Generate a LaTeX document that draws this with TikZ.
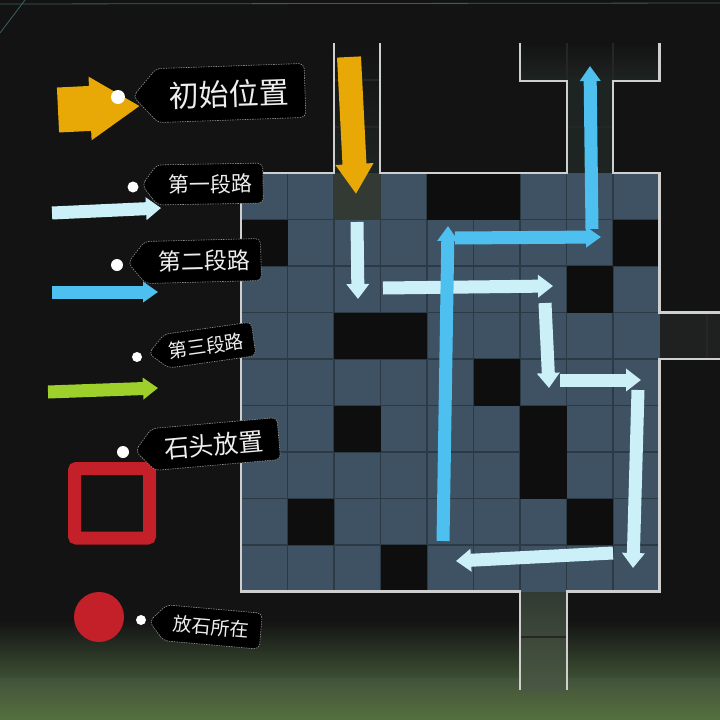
\documentclass[tikz,border=0pt]{standalone}
\usepackage{fontspec}
\newfontfamily\cjk{Noto Sans CJK SC}
\usetikzlibrary{arrows.meta}
\definecolor{bgc}{HTML}{131313}
\definecolor{slate}{HTML}{3E5263}
\definecolor{gridline}{HTML}{2C3A45}
\definecolor{cellblack}{HTML}{0E0E0E}
\definecolor{startcell}{HTML}{323A33}
\definecolor{wall}{HTML}{CFCFCF}
\definecolor{corr}{HTML}{1E2422}
\definecolor{orangeA}{HTML}{E8A806}
\definecolor{cyanA}{HTML}{CBF0F7}
\definecolor{blueA}{HTML}{4EC0F0}
\definecolor{greenA}{HTML}{9DD02A}
\definecolor{redA}{HTML}{C3202A}
\definecolor{tagtext}{HTML}{EEEEEE}
\definecolor{greenbot}{HTML}{55703F}
\definecolor{greenmid}{HTML}{3C4E33}
\newcommand\cellat[3]{\fill[#3] ({241+46.5*#1},{173+46.5*#2}) rectangle ++(46.5,46.5);}
\newcommand\tagshape[6]{%
  \filldraw[tagbg, shift={(#1,#2)}, rotate=#6] ({-#3-#5},0) -- (-#3,-#4) -- (#3,-#4) -- (#3,#4) -- (-#3,#4) -- cycle;}
\tikzset{
  wallline/.style={draw=wall, line width=2.2pt},
  gridl/.style={draw=gridline, line width=1.3pt},
  arrC/.style={draw=cyanA, line width=13pt, -{Triangle[width=22pt,length=15pt]}},
  arrB/.style={draw=blueA, line width=13pt, -{Triangle[width=20pt,length=15pt]}},
  arrG/.style={draw=greenA, line width=13pt, -{Triangle[width=21pt,length=15pt]}},
  arrO/.style={draw=orangeA, line width=24pt, -{Triangle[width=36pt,length=30pt]}},
  arrOL/.style={draw=orangeA, line width=45pt, -{Triangle[width=60pt,length=50pt]}},
  tagbg/.style={fill=black, draw=gray!85, dash pattern=on 1.5pt off 1pt, line width=0.6pt, rounded corners=5pt},
  tagtxt/.style={text=tagtext, inner sep=0pt},
  dotw/.style={circle, fill=white, draw=none, inner sep=0pt},
}
\begin{document}
\begin{tikzpicture}[x=1pt,y=-1pt]
\useasboundingbox (0,0) rectangle (720,720);
% background
\fill[bgc] (0,0) rectangle (720,720);
\shade[top color=bgc, bottom color=greenmid] (0,620) rectangle (720,678);
\shade[top color=greenmid!90!gray, bottom color=greenbot] (0,678) rectangle (720,720);
\draw[draw=teal!40!gray, line width=0.8pt, opacity=0.7] (0,4) -- (720,3);
\draw[draw=teal!40!gray, line width=0.8pt, opacity=0.7] (0,33) -- (25,0);
% corridors
\shade[top color=bgc, bottom color=corr] (334,43) rectangle (380,173);
\shade[top color=bgc, bottom color=corr] (520,43) rectangle (660,81);
\fill[corr] (567,81) rectangle (613,173);
\fill[corr!80!gray!60!black] (660,312.5) rectangle (720,359);
\shade[top color=startcell, bottom color=greenmid!80!gray] (520,591.5) rectangle (567,690);
\draw[gridl, draw=gray!30!black] (334,80) -- (380,80) (334,127) -- (380,127);
\draw[gridl, draw=gray!30!black] (567,43) -- (567,81) (613,43) -- (613,81) (567,127) -- (613,127);
\draw[gridl, draw=gray!30!black] (707,312.5) -- (707,359) (520,637) -- (567,637);
% grid
\fill[slate] (241,173) rectangle (659.5,591.5);
\foreach \i in {1,...,8} {
  \draw[gridl] ({241+46.5*\i},173) -- ({241+46.5*\i},591.5);
  \draw[gridl] (241,{173+46.5*\i}) -- (659.5,{173+46.5*\i});
}
\foreach \c/\r in {4/0,5/0,0/1,8/1,7/2,2/3,3/3,5/4,2/5,6/5,6/6,1/7,7/7,3/8} {\cellat{\c}{\r}{cellblack}}
\cellat{2}{0}{startcell}
% walls
\draw[wallline] (334,43) -- (334,173) -- (241,173) -- (241,591.5) -- (520,591.5) -- (520,690);
\draw[wallline] (567,690) -- (567,591.5) -- (659.5,591.5) -- (659.5,359) -- (720,359);
\draw[wallline] (720,312.5) -- (659.5,312.5) -- (659.5,173) -- (613,173) -- (613,81) -- (659.5,81) -- (659.5,43);
\draw[wallline] (520,43) -- (520,81) -- (567,81) -- (567,173) -- (380,173) -- (380,43);
% map arrows
\coordinate (o1) at (349,57); \coordinate (o2) at (356,194);
\draw[arrO] (o1) -- (o2);
\coordinate (c1a) at (357,222); \coordinate (c1b) at (358,299);
\coordinate (c2a) at (383,288); \coordinate (c2b) at (553,286);
\coordinate (c3a) at (545,303); \coordinate (c3b) at (549,388);
\coordinate (c4a) at (560,380); \coordinate (c4b) at (641,380);
\coordinate (c5a) at (638,390); \coordinate (c5b) at (633,568);
\coordinate (c6a) at (613,553); \coordinate (c6b) at (456,561);
\foreach \s in {1,...,6} {\draw[arrC] (c\s a) -- (c\s b);}
\coordinate (b1a) at (443,541); \coordinate (b1b) at (448,226);
\coordinate (b2a) at (455,238); \coordinate (b2b) at (601,237);
\coordinate (b3a) at (592,229); \coordinate (b3b) at (590,66);
\foreach \s in {1,2,3} {\draw[arrB] (b\s a) -- (b\s b);}
% legend
\coordinate (lo1) at (58,110); \coordinate (lo2) at (140,106);
\draw[arrOL] (lo1) -- (lo2);
\coordinate (lc1) at (52,213); \coordinate (lc2) at (161,208);
\draw[arrC] (lc1) -- (lc2);
\coordinate (lb1) at (52,292); \coordinate (lb2) at (158,292);
\draw[arrB] (lb1) -- (lb2);
\coordinate (lg1) at (48,392); \coordinate (lg2) at (158,388);
\draw[arrG] (lg1) -- (lg2);
\draw[draw=redA, line width=13pt, rounded corners=2pt] (74.5,468.5) rectangle (149.5,538);
\node[circle, fill=redA, minimum size=50pt, inner sep=0pt] (stone) at (99,617) {};
% tags
\tagshape{231}{93}{74}{27}{24}{2}
\node[tagtxt, rotate=2, font=\cjk\fontsize{30}{30}\selectfont] (t1) at (229,94) {初始位置};
\tagshape{210}{184}{53}{20}{15}{1}
\node[tagtxt, rotate=1, font=\cjk\fontsize{21}{21}\selectfont] (t2) at (210,184) {第一段路};
\tagshape{203}{261}{58}{21}{17}{1.5}
\node[tagtxt, rotate=1.5, font=\cjk\fontsize{23}{23}\selectfont] (t3) at (204,261) {第二段路};
\tagshape{210}{345}{44}{17}{18}{8}
\node[tagtxt, rotate=8, font=\cjk\fontsize{19}{19}\selectfont] (t4) at (206,346) {第三段路};
\tagshape{216}{444}{63}{21}{18}{5}
\node[tagtxt, rotate=5, font=\cjk\fontsize{25}{25}\selectfont] (t5) at (214,445) {石头放置};
\tagshape{213}{627}{48}{18}{16}{-5}
\node[tagtxt, rotate=-5, font=\cjk\fontsize{19}{19}\selectfont] (t6) at (211,627) {放石所在};
% dots
\node[dotw, minimum size=14pt] (d1) at (118,97) {};
\node[dotw, minimum size=11pt] (d2) at (133,187) {};
\node[dotw, minimum size=12pt] (d3) at (117,265) {};
\node[dotw, minimum size=10pt] (d4) at (137,357) {};
\node[dotw, minimum size=12pt] (d5) at (123,452) {};
\node[dotw, minimum size=10pt] (d6) at (141,620) {};
\end{tikzpicture}
\end{document}
